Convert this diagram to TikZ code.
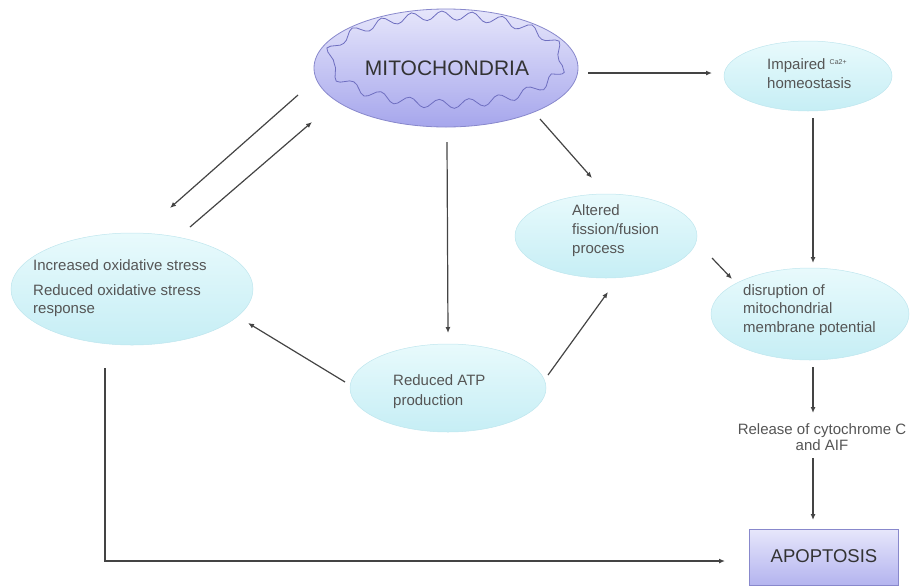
\documentclass[tikz,border=0pt]{standalone}
\usepackage{fontspec}
\setmainfont{Liberation Sans}
\usetikzlibrary{shapes.geometric,arrows.meta,decorations.pathmorphing}
\definecolor{txt}{HTML}{555555}
\definecolor{dtxt}{HTML}{333333}
\definecolor{lnc}{HTML}{444444}
\definecolor{cyt}{HTML}{E8FAFC}
\definecolor{cyb}{HTML}{C6EEF5}
\definecolor{cyd}{HTML}{BFE6EE}
\definecolor{lavt}{HTML}{E6E6FB}
\definecolor{lavb}{HTML}{A6A6EC}
\definecolor{lavd}{HTML}{8888CC}
\definecolor{wav}{HTML}{6E6EC0}
\tikzset{
  cellip/.style={ellipse, inner sep=0pt, top color=cyt, bottom color=cyb, draw=cyd, line width=0.5pt},
  lbltext/.style={inner sep=0pt, align=left, anchor=west, text=txt, font=\fontsize{15}{18.5}\selectfont},
  arr/.style={draw=lnc, line width=1.2pt, -{Latex[length=6pt,width=5pt]}}
}
\begin{document}
\begin{tikzpicture}[x=1pt,y=-1pt]
\useasboundingbox (0,0) rectangle (915,587);
% nodes
\node[ellipse, inner sep=0pt, minimum width=264pt, minimum height=118pt, top color=lavt, bottom color=lavb, draw=lavd, line width=0.8pt] (mito) at (446,68) {};
\draw[wav, line width=0.8pt, decorate, decoration={snake, amplitude=4.5pt, segment length=30pt}] (mito.center) ellipse [x radius=117pt, y radius=44pt];
\node[text=dtxt, font=\fontsize{21}{24}\selectfont] (mitot) at (447,68) {MITOCHONDRIA};

\node[cellip, minimum width=168pt, minimum height=70pt] (ca) at (808,76) {};
\node[lbltext, font=\fontsize{15}{19}\selectfont] (cat) at (767,74) {Impaired \raisebox{5pt}{\fontsize{7}{7}\selectfont Ca2+}\\homeostasis};

\node[cellip, minimum width=242pt, minimum height=112pt] (inc) at (132,289) {};
\node[lbltext] (inct) at (33,288) {Increased oxidative stress\\[6.5pt]Reduced oxidative stress\\response};

\node[cellip, minimum width=196pt, minimum height=88pt] (atp) at (448,388) {};
\node[lbltext, font=\fontsize{15}{20}\selectfont] (atpt) at (393,392) {Reduced ATP\\production};

\node[cellip, minimum width=182pt, minimum height=84pt] (alt) at (606,236) {};
\node[lbltext, font=\fontsize{15}{19}\selectfont] (altt) at (572,231) {Altered\\fission/fusion\\process};

\node[cellip, minimum width=198pt, minimum height=92pt] (dis) at (810,314) {};
\node[lbltext] (dist) at (743,310) {disruption of\\mitochondrial\\membrane potential};

\node[inner sep=0pt, align=center, text=txt, font=\fontsize{15}{16.5}\selectfont] (rel) at (822,437) {Release of cytochrome C\\and AIF};

\node[rectangle, inner sep=0pt, minimum width=149pt, minimum height=56pt, top color=lavt, bottom color=lavb!85, draw=lavd, line width=0.8pt] (apop) at (823.5,557.5) {};
\node[text=dtxt, font=\fontsize{18.5}{20}\selectfont] (apopt) at (824,556) {APOPTOSIS};

% connectors
\draw[arr] ([shift={(142,5)}]mito.center) -- ([shift={(-96,-3)}]ca.center);
\draw[arr] ([shift={(5,42)}]ca.center) -- ([shift={(3,-51)}]dis.center);
\draw[arr] ([shift={(-148,27)}]mito.center) -- ([shift={(38,-81)}]inc.center);
\draw[arr] ([shift={(58,-62)}]inc.center) -- ([shift={(-134,54)}]mito.center);
\draw[arr] ([shift={(1,74)}]mito.center) -- ([shift={(0,-55)}]atp.center);
\draw[arr] ([shift={(94,51)}]mito.center) -- ([shift={(-14,-58)}]alt.center);
\draw[arr] ([shift={(106,22)}]alt.center) -- ([shift={(-78,-35)}]dis.center);
\draw[arr] ([shift={(-103,-6)}]atp.center) -- ([shift={(116,34)}]inc.center);
\draw[arr] ([shift={(100,-13)}]atp.center) -- ([shift={(2,56)}]alt.center);
\draw[arr] ([shift={(3,53)}]dis.center) -- ([shift={(-9,-24)}]rel.center);
\draw[arr] ([shift={(-9,21)}]rel.center) -- ([shift={(-10.5,-37.5)}]apop.center);
\draw[arr] ([shift={(-27,79)}]inc.center) |- ([shift={(-98.5,3.5)}]apop.center);
\end{tikzpicture}
\end{document}
